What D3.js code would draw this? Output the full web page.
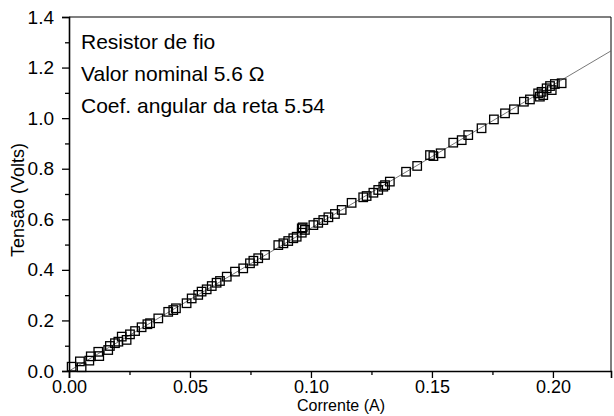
<!DOCTYPE html>
<html>
<head>
<meta charset="utf-8">
<script src="https://cdn.jsdelivr.net/npm/d3@7"></script>
<style>
  body { margin: 0; background: #fff; }
  text { font-family: "Liberation Sans", Arial, sans-serif; fill: #000; }
</style>
</head>
<body>
<script>
// measured points: current (A) and voltage (V)
const corrente = [0.0011, 0.0045, 0.0052, 0.0084, 0.0090, 0.0121, 0.0125, 0.0162, 0.0169, 0.0190,
  0.0204, 0.0218, 0.0238, 0.0252, 0.0273, 0.0300, 0.0324, 0.0335, 0.0369, 0.0410,
  0.0431, 0.0442, 0.0486, 0.0507, 0.0534, 0.0548, 0.0569, 0.0590, 0.0610, 0.0624,
  0.0652, 0.0686, 0.0720, 0.0748, 0.0762, 0.0782, 0.0810, 0.0865, 0.0886, 0.0906,
  0.0927, 0.0941, 0.0962, 0.0975, 0.0962, 0.0966, 0.1010, 0.1030, 0.1051, 0.1072,
  0.1099, 0.1127, 0.1168, 0.1216, 0.1230, 0.1258, 0.1278, 0.1299, 0.1306, 0.1326,
  0.1393, 0.1439, 0.1492, 0.1506, 0.1536, 0.1588, 0.1623, 0.1650, 0.1705, 0.1756,
  0.1802, 0.1839, 0.1880, 0.1905, 0.1939, 0.1946, 0.1953, 0.1960, 0.1974, 0.1988,
  0.1995, 0.2008, 0.2036];
const tensao = [0.017, 0.038, 0.015, 0.041, 0.058, 0.076, 0.059, 0.083, 0.099, 0.110,
  0.116, 0.136, 0.123, 0.145, 0.158, 0.173, 0.185, 0.189, 0.208, 0.234,
  0.241, 0.248, 0.268, 0.287, 0.301, 0.314, 0.323, 0.336, 0.349, 0.356,
  0.373, 0.393, 0.406, 0.426, 0.436, 0.446, 0.459, 0.498, 0.505, 0.514,
  0.525, 0.531, 0.547, 0.558, 0.564, 0.568, 0.577, 0.586, 0.597, 0.608,
  0.621, 0.637, 0.665, 0.687, 0.692, 0.705, 0.716, 0.729, 0.735, 0.749,
  0.788, 0.811, 0.854, 0.850, 0.861, 0.903, 0.913, 0.933, 0.960, 0.995,
  1.019, 1.035, 1.065, 1.074, 1.098, 1.085, 1.104, 1.091, 1.118, 1.127,
  1.111, 1.135, 1.138];

// fitted straight line (end points)
const retaX = [0, 0.224];
const retaY = [0.0, 1.266];

const xMajor = [0, 0.05, 0.10, 0.15, 0.20];
const xMinor = [0.025, 0.075, 0.125, 0.175];
const yMajor = [0, 0.2, 0.4, 0.6, 0.8, 1.0, 1.2, 1.4];
const yMinor = [0.1, 0.3, 0.5, 0.7, 0.9, 1.1, 1.3];

const legenda = ["Resistor de fio", "Valor nominal 5.6 \u03A9", "Coef. angular da reta 5.54"];

const W = 614, H = 416;
const m = { left: 69, top: 17, right: 3, bottom: 45 };

const svg = d3.select("body").append("svg")
  .attr("width", W)
  .attr("height", H);

const x = d3.scaleLinear().domain([0, 0.224]).range([m.left, W - m.right]);
const y = d3.scaleLinear().domain([0, 1.4]).range([H - m.bottom, m.top]);

// frame (top + right thin)
svg.append("line")
  .attr("x1", x(0)).attr("x2", x(0.224))
  .attr("y1", y(1.4)).attr("y2", y(1.4))
  .attr("stroke", "#000").attr("stroke-width", 1.2);
svg.append("line")
  .attr("x1", x(0.224)).attr("x2", x(0.224))
  .attr("y1", y(1.4)).attr("y2", y(0))
  .attr("stroke", "#000").attr("stroke-width", 1);

// fitted line
svg.append("line")
  .attr("x1", x(retaX[0])).attr("y1", y(retaY[0]))
  .attr("x2", x(retaX[1])).attr("y2", y(retaY[1]))
  .attr("stroke", "#555").attr("stroke-width", 0.8);

// points
const pts = corrente.map((c, i) => [c, tensao[i]]);
const s = 8.5;
svg.append("g").selectAll("rect")
  .data(pts)
  .join("rect")
  .attr("x", d => x(d[0]) - s / 2)
  .attr("y", d => y(d[1]) - s / 2)
  .attr("width", s).attr("height", s)
  .attr("fill", "none")
  .attr("stroke", "#000")
  .attr("stroke-width", 1.3);

// axes
const xAxis = svg.append("g")
  .attr("transform", `translate(0,${y(0)})`)
  .call(d3.axisBottom(x).tickValues(xMajor).tickSize(7).tickFormat(d3.format(".2f")));
svg.append("g")
  .attr("transform", `translate(0,${y(0)})`)
  .call(d3.axisBottom(x).tickValues(xMinor).tickSize(4).tickFormat(""))
  .select(".domain").remove();

const yAxis = svg.append("g")
  .attr("transform", `translate(${x(0)},0)`)
  .call(d3.axisLeft(y).tickValues(yMajor).tickSize(7).tickFormat(d3.format(".1f")));
svg.append("g")
  .attr("transform", `translate(${x(0)},0)`)
  .call(d3.axisLeft(y).tickValues(yMinor).tickSize(4).tickFormat(""))
  .select(".domain").remove();

svg.selectAll(".domain").attr("stroke-width", 1.6);
svg.selectAll(".tick line").attr("stroke-width", 1.3);
yAxis.selectAll(".tick text")
  .style("font-family", "'Liberation Sans', Arial, sans-serif")
  .style("font-size", "19px")
  .attr("x", -15);
xAxis.selectAll(".tick text")
  .style("font-family", "'Liberation Sans', Arial, sans-serif")
  .style("font-size", "18px")
  .attr("y", 9);

// axis titles
svg.append("text")
  .attr("x", 341).attr("y", 411)
  .attr("text-anchor", "middle")
  .style("font-size", "16px")
  .text("Corrente (A)");

svg.append("text")
  .attr("transform", "translate(24,200) rotate(-90)")
  .attr("text-anchor", "middle")
  .style("font-size", "18px")
  .text("Tensão (Volts)");

// legend text
svg.append("g").selectAll("text")
  .data(legenda)
  .join("text")
  .attr("x", 81)
  .attr("y", (d, i) => 49 + i * 32)
  .style("font-size", "21px")
  .text(d => d);
</script>
</body>
</html>
